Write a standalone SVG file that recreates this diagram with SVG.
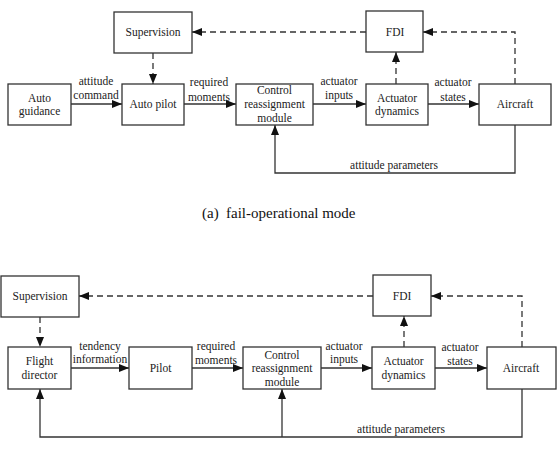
<svg xmlns="http://www.w3.org/2000/svg" width="557" height="451" viewBox="0 0 557 451" font-family="Liberation Serif, Times New Roman, serif">
<style>
rect.box{fill:#fff;stroke:#333;stroke-width:1.3}
text{font-family:"Liberation Serif","Times New Roman",serif}
.t{font-size:11.5px;fill:#222;text-anchor:middle}
.cap{font-size:15px;fill:#111}
.ln{fill:none;stroke:#333;stroke-width:1.3}
.ds{fill:none;stroke:#333;stroke-width:1.3;stroke-dasharray:6,4}
</style>
<defs>
<marker id="ah" markerUnits="userSpaceOnUse" markerWidth="11" markerHeight="8" refX="10" refY="4" orient="auto">
<path d="M0,0 L10,4 L0,8 z" fill="#111"/>
</marker>
</defs>
<rect width="557" height="451" fill="#fff"/>

<g id="connectors">
<line class="ln" x1="71" y1="104" x2="122" y2="104" marker-end="url(#ah)"/>
<line class="ln" x1="184" y1="104" x2="236" y2="104" marker-end="url(#ah)"/>
<line class="ln" x1="313" y1="104" x2="366" y2="104" marker-end="url(#ah)"/>
<line class="ln" x1="428" y1="104" x2="479" y2="104" marker-end="url(#ah)"/>
<line class="ds" x1="153" y1="53" x2="153" y2="84" marker-end="url(#ah)"/>
<line class="ds" x1="396" y1="84" x2="396" y2="52" marker-end="url(#ah)"/>
<line class="ds" x1="366" y1="32" x2="192" y2="32" marker-end="url(#ah)"/>
<path class="ds" d="M515,84 V32 H423" marker-end="url(#ah)"/>
<path class="ln" d="M515,125 V173 H275 V125" marker-end="url(#ah)"/>
<text class="t" x="96" y="85">attitude</text>
<text class="t" x="96" y="99">command</text>
<text class="t" x="209" y="86">required</text>
<text class="t" x="209" y="100.5">moments</text>
<text class="t" x="339" y="85">actuator</text>
<text class="t" x="339" y="99">inputs</text>
<text class="t" x="453" y="86">actuator</text>
<text class="t" x="453" y="100.5">states</text>
<text class="t" x="394" y="169">attitude parameters</text>

<line class="ln" x1="71" y1="368" x2="129" y2="368" marker-end="url(#ah)"/>
<line class="ln" x1="192" y1="368" x2="243" y2="368" marker-end="url(#ah)"/>
<line class="ln" x1="321" y1="368" x2="372" y2="368" marker-end="url(#ah)"/>
<line class="ln" x1="435" y1="368" x2="487" y2="368" marker-end="url(#ah)"/>
<line class="ds" x1="40" y1="317" x2="40" y2="347" marker-end="url(#ah)"/>
<line class="ds" x1="404" y1="347" x2="404" y2="316" marker-end="url(#ah)"/>
<line class="ds" x1="373" y1="296" x2="79" y2="296" marker-end="url(#ah)"/>
<path class="ds" d="M522,347 V296 H431" marker-end="url(#ah)"/>
<path class="ln" d="M522,389 V437 H40 V389" marker-end="url(#ah)"/>
<path class="ln" d="M282,437 V389" marker-end="url(#ah)"/>
<text class="t" x="100" y="349.5">tendency</text>
<text class="t" x="100" y="363">information</text>
<text class="t" x="216" y="350">required</text>
<text class="t" x="216" y="364">moments</text>
<text class="t" x="344" y="349.5">actuator</text>
<text class="t" x="344" y="363">inputs</text>
<text class="t" x="460" y="351">actuator</text>
<text class="t" x="460" y="365">states</text>
<text class="t" x="401" y="433">attitude parameters</text>
</g>

<g id="supervision-a"><rect class="box" x="114" y="12" width="78" height="41"/><text class="t" x="153" y="36">Supervision</text></g>
<g id="fdi-a"><rect class="box" x="366" y="11" width="57" height="41"/><text class="t" x="395" y="36">FDI</text></g>
<g id="autoguidance"><rect class="box" x="8" y="84" width="63" height="41"/><text class="t" x="39.5" y="101.5">Auto</text><text class="t" x="39.5" y="115">guidance</text></g>
<g id="autopilot"><rect class="box" x="122" y="84" width="62" height="41"/><text class="t" x="153" y="108">Auto pilot</text></g>
<g id="control-a"><rect class="box" x="236" y="84" width="77" height="41"/><text class="t" x="274.5" y="94">Control</text><text class="t" x="274.5" y="108">reassignment</text><text class="t" x="274.5" y="122">module</text></g>
<g id="actuator-a"><rect class="box" x="366" y="84" width="62" height="41"/><text class="t" x="397" y="101.5">Actuator</text><text class="t" x="397" y="115">dynamics</text></g>
<g id="aircraft-a"><rect class="box" x="479" y="84" width="72" height="41"/><text class="t" x="515" y="108">Aircraft</text></g>

<text class="cap" x="202" y="218">(a)<tspan x="226">fail-operational mode</tspan></text>

<g id="supervision-b"><rect class="box" x="1" y="276" width="78" height="41"/><text class="t" x="40" y="300">Supervision</text></g>
<g id="fdi-b"><rect class="box" x="373" y="275" width="58" height="41"/><text class="t" x="402" y="300">FDI</text></g>
<g id="flightdirector"><rect class="box" x="8" y="347" width="63" height="42"/><text class="t" x="39.5" y="365">Flight</text><text class="t" x="39.5" y="379">director</text></g>
<g id="pilot"><rect class="box" x="129" y="347" width="63" height="42"/><text class="t" x="160.5" y="372">Pilot</text></g>
<g id="control-b"><rect class="box" x="243" y="347" width="78" height="42"/><text class="t" x="282" y="358.5">Control</text><text class="t" x="282" y="372">reassignment</text><text class="t" x="282" y="385.5">module</text></g>
<g id="actuator-b"><rect class="box" x="372" y="347" width="63" height="42"/><text class="t" x="403.5" y="365">Actuator</text><text class="t" x="403.5" y="378.5">dynamics</text></g>
<g id="aircraft-b"><rect class="box" x="487" y="347" width="69" height="42"/><text class="t" x="521" y="372">Aircraft</text></g>
</svg>
